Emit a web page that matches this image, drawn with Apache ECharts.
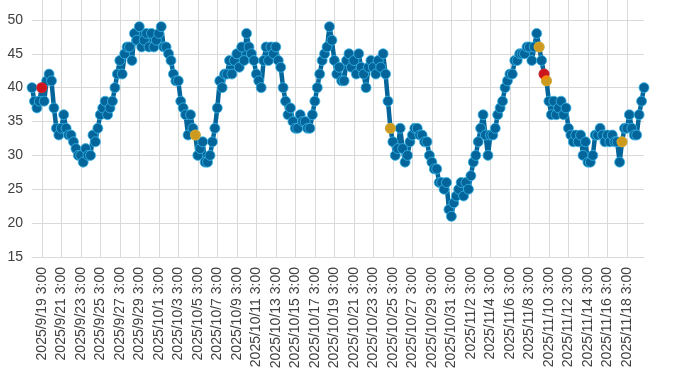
<!DOCTYPE html>
<html>
<head>
<meta charset="utf-8">
<script src="https://cdn.jsdelivr.net/npm/echarts@6/dist/echarts.min.js"></script>
<style>html,body{margin:0;padding:0;background:#fff;}#c{width:700px;height:371px;}</style>
</head>
<body>
<div id="c"></div>
<script>
// Time slots: every 6 hours from 2025/9/18 3:00 to 2025/11/19 21:00
const hours = ['3:00', '9:00', '15:00', '21:00'];
const firstDay = [2025, 9, 18];
const dayCount = 63;

// Values, one row per day (3:00, 9:00, 15:00, 21:00)
const values = [
  40, 38, 37, 38, // 9/18
  40, 38, 41, 42, // 9/19
  41, 37, 34, 33, // 9/20
  34, 36, 34, 33, // 9/21
  33, 32, 31, 30, // 9/22
  30, 29, 31, 30, // 9/23
  30, 33, 32, 34, // 9/24
  36, 37, 38, 36, // 9/25
  37, 38, 40, 42, // 9/26
  44, 42, 45, 46, // 9/27
  46, 44, 48, 47, // 9/28
  49, 46, 47, 48, // 9/29
  46, 48, 46, 47, // 9/30
  48, 49, 46, 46, // 10/1
  45, 44, 42, 41, // 10/2
  41, 38, 37, 36, // 10/3
  33, 36, 34, 33, // 10/4
  30, 31, 32, 29, // 10/5
  29, 30, 32, 34, // 10/6
  37, 41, 40, 42, // 10/7
  42, 44, 42, 44, // 10/8
  45, 43, 46, 44, // 10/9
  48, 46, 45, 44, // 10/10
  42, 41, 40, 44, // 10/11
  46, 44, 46, 45, // 10/12
  46, 44, 43, 40, // 10/13
  38, 36, 37, 35, // 10/14
  34, 34, 36, 35, // 10/15
  35, 34, 34, 36, // 10/16
  38, 40, 42, 44, // 10/17
  45, 46, 49, 47, // 10/18
  44, 42, 43, 41, // 10/19
  41, 44, 45, 43, // 10/20
  44, 42, 45, 43, // 10/21
  42, 40, 43, 44, // 10/22
  43, 42, 44, 43, // 10/23
  45, 42, 38, 34, // 10/24
  32, 30, 31, 34, // 10/25
  31, 29, 30, 32, // 10/26
  33, 34, 34, 33, // 10/27
  33, 32, 32, 30, // 10/28
  29, 28, 28, 26, // 10/29
  26, 25, 26, 22, // 10/30
  21, 23, 24, 25, // 10/31
  26, 24, 26, 25, // 11/1
  27, 29, 30, 32, // 11/2
  34, 36, 33, 30, // 11/3
  33, 33, 34, 36, // 11/4
  37, 38, 40, 41, // 11/5
  42, 42, 44, 44, // 11/6
  45, 45, 45, 46, // 11/7
  46, 44, 46, 48, // 11/8
  46, 44, 42, 41, // 11/9
  38, 36, 38, 36, // 11/10
  37, 38, 36, 37, // 11/11
  34, 33, 32, 33, // 11/12
  32, 33, 30, 32, // 11/13
  29, 29, 30, 33, // 11/14
  33, 34, 33, 32, // 11/15
  33, 32, 33, 32, // 11/16
  32, 29, 32, 34, // 11/17
  34, 36, 34, 33, // 11/18
  33, 36, 38, 40  // 11/19
];

// Highlighted points
const redPoints = [['2025/9/19 3:00', 40], ['2025/11/9 15:00', 42]];
const orangePoints = [
  ['2025/10/4 21:00', 33],
  ['2025/10/24 21:00', 34],
  ['2025/11/9 3:00', 46],
  ['2025/11/9 21:00', 41],
  ['2025/11/17 15:00', 32]
];

const yTicks = { min: 15, max: 55, step: 5, lastShown: 50 };

// Build category labels
const categories = [];
for (let d = 0; d < dayCount; d++) {
  const dt = new Date(Date.UTC(firstDay[0], firstDay[1] - 1, firstDay[2] + d));
  const ds = dt.getUTCFullYear() + '/' + (dt.getUTCMonth() + 1) + '/' + dt.getUTCDate();
  hours.forEach(h => categories.push(ds + ' ' + h));
}

const labelEvery = (i) => i % 8 === 4;
const font = "'Liberation Sans', Arial, sans-serif";
const gridColor = '#d9d9d9';

const chart = echarts.init(document.getElementById('c'), null, { renderer: 'canvas' });
chart.setOption({
  animation: false,
  grid: { left: 32, right: 56, top: -14, bottom: 114, containLabel: false, outerBoundsMode: 'none' },
  xAxis: {
    type: 'category',
    data: categories,
    boundaryGap: false,
    axisLine: { show: true, lineStyle: { color: gridColor, width: 1 } },
    axisTick: { show: false },
    axisLabel: {
      interval: labelEvery,
      rotate: 90,
      margin: 10,
      fontSize: 14,
      color: '#404040',
      fontFamily: font
    },
    splitLine: { show: true, interval: labelEvery, lineStyle: { color: gridColor, width: 1 } }
  },
  yAxis: {
    type: 'value',
    min: yTicks.min,
    max: yTicks.max,
    interval: yTicks.step,
    axisLine: { show: false },
    axisTick: { show: false },
    axisLabel: {
      fontSize: 14, color: '#404040', margin: 9, fontFamily: font,
      formatter: (v) => (v > yTicks.lastShown ? '' : String(v))
    },
    splitLine: { show: true, lineStyle: { color: gridColor, width: 1 } }
  },
  series: [
    {
      type: 'line',
      data: values,
      showAllSymbol: true,
      symbol: 'circle',
      symbolSize: 10,
      lineStyle: { color: '#03659a', width: 4.5 },
      itemStyle: { color: '#03659a', borderColor: '#3ab6e8', borderWidth: 0.8 },
      z: 2
    },
    {
      type: 'scatter',
      data: redPoints,
      symbol: 'circle',
      symbolSize: 11,
      itemStyle: { color: '#ff0000' },
      z: 3
    },
    {
      type: 'scatter',
      data: orangePoints,
      symbol: 'circle',
      symbolSize: 11,
      itemStyle: { color: '#ffa800' },
      z: 4
    }
  ]
});
</script>
</body>
</html>
